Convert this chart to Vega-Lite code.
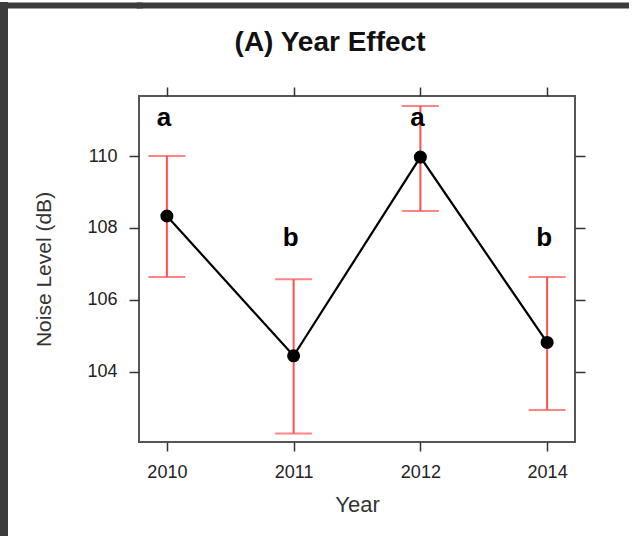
{
  "$schema": "https://vega.github.io/schema/vega-lite/v6.json",
  "padding": 0,
  "background": "white",
  "spacing": -3,
  "config": {
    "font": "Liberation Sans",
    "view": {"stroke": "#555555", "strokeWidth": 2},
    "axis": {
      "grid": false,
      "domain": false,
      "labelFont": "Liberation Sans",
      "titleFont": "Liberation Sans",
      "tickColor": "#333333",
      "tickWidth": 1.5,
      "labelColor": "#222222",
      "titleColor": "#333333",
      "titleFontWeight": "normal"
    }
  },
  "hconcat": [
    {
      "width": 8,
      "height": 536,
      "data": {"values": []},
      "mark": "point",
      "encoding": {},
      "view": {"fill": "#3c3c3c", "stroke": null}
    },
    {
      "spacing": 18,
      "vconcat": [
        {
          "width": 490,
          "height": 3,
          "data": {"values": []},
          "mark": "point",
          "view": {"stroke": null},
          "encoding": {
            "x": {
              "field": "u",
              "type": "quantitative",
              "scale": {"domain": [0, 1], "nice": false},
              "axis": {
                "orient": "bottom",
                "domain": true,
                "domainWidth": 6,
                "domainCap": "square",
                "domainColor": "#3c3c3c",
                "ticks": false,
                "labels": false,
                "title": null
              }
            },
            "y": {
              "field": "v",
              "type": "quantitative",
              "scale": {"domain": [0, 1], "nice": false},
              "axis": {
                "orient": "left",
                "values": [0],
                "tickSize": 129,
                "tickWidth": 6,
                "tickCap": "square",
                "tickColor": "#3c3c3c",
                "labels": false,
                "domain": false,
                "title": null
              }
            }
          }
        },
        {
          "width": 436,
          "height": 346,
          "title": {
            "text": "(A) Year Effect",
            "fontSize": 28,
            "fontWeight": "bold",
            "font": "Liberation Sans",
            "color": "#111111",
            "anchor": "middle",
            "frame": "group",
            "offset": 29,
            "dx": -27
          },
          "data": {
            "values": [
              {"year": "2010", "mean": 108.33, "lower": 106.63, "upper": 110.0, "letter": "a", "label_y": 110.83},
              {"year": "2011", "mean": 104.44, "lower": 102.28, "upper": 106.57, "letter": "b", "label_y": 107.5},
              {"year": "2012", "mean": 109.97, "lower": 108.47, "upper": 111.39, "letter": "a", "label_y": 110.83},
              {"year": "2014", "mean": 104.81, "lower": 102.93, "upper": 106.63, "letter": "b", "label_y": 107.5}
            ]
          },
          "layer": [
            {
              "mark": {"type": "rule", "color": "#ff5050", "strokeWidth": 2},
              "encoding": {
                "x": {
                  "field": "year",
                  "type": "ordinal",
                  "scale": {"type": "point", "padding": 0.22},
                  "axis": {
                    "orient": "bottom",
                    "title": "Year",
                    "titleFontSize": 22,
                    "labelFontSize": 18,
                    "labelAngle": 0,
                    "tickSize": 9,
                    "labelPadding": 12,
                    "titlePadding": 13
                  }
                },
                "y": {
                  "field": "lower",
                  "type": "quantitative",
                  "scale": {"domain": [102.04, 111.67], "nice": false, "zero": false},
                  "axis": {
                    "orient": "left",
                    "title": ["", "Noise Level (dB)"],
                    "titleLineHeight": 25,
                    "titleFontSize": 21,
                    "labelFontSize": 18,
                    "values": [104, 106, 108, 110],
                    "tickSize": 10,
                    "labelPadding": 12,
                    "titlePadding": 32
                  }
                },
                "y2": {"field": "upper"}
              }
            },
            {
              "mark": {"type": "tick", "color": "#ff5050", "size": 37, "thickness": 2},
              "encoding": {
                "x": {"field": "year", "type": "ordinal", "axis": null},
                "y": {"field": "upper", "type": "quantitative", "axis": null}
              }
            },
            {
              "mark": {"type": "tick", "color": "#ff5050", "size": 37, "thickness": 2},
              "encoding": {
                "x": {"field": "year", "type": "ordinal", "axis": null},
                "y": {"field": "lower", "type": "quantitative", "axis": null}
              }
            },
            {
              "mark": {"type": "line", "color": "#000000", "strokeWidth": 2.2},
              "encoding": {
                "x": {"field": "year", "type": "ordinal", "axis": null},
                "y": {"field": "mean", "type": "quantitative", "axis": null}
              }
            },
            {
              "mark": {"type": "point", "filled": true, "color": "#000000", "size": 170, "opacity": 1},
              "encoding": {
                "x": {"field": "year", "type": "ordinal", "axis": null},
                "y": {"field": "mean", "type": "quantitative", "axis": null}
              }
            },
            {
              "mark": {"type": "text", "fontSize": 26, "fontWeight": "bold", "baseline": "alphabetic", "dx": -3, "color": "#000000", "font": "Liberation Sans"},
              "encoding": {
                "x": {
                  "field": "year",
                  "type": "ordinal",
                  "axis": {"orient": "top", "labels": false, "title": null, "tickSize": 9}
                },
                "y": {
                  "field": "label_y",
                  "type": "quantitative",
                  "axis": {"orient": "right", "labels": false, "title": null, "tickSize": 10, "values": [104, 106, 108, 110]}
                },
                "text": {"field": "letter"}
              }
            }
          ],
          "resolve": {"axis": {"x": "independent", "y": "independent"}}
        }
      ]
    }
  ]
}
